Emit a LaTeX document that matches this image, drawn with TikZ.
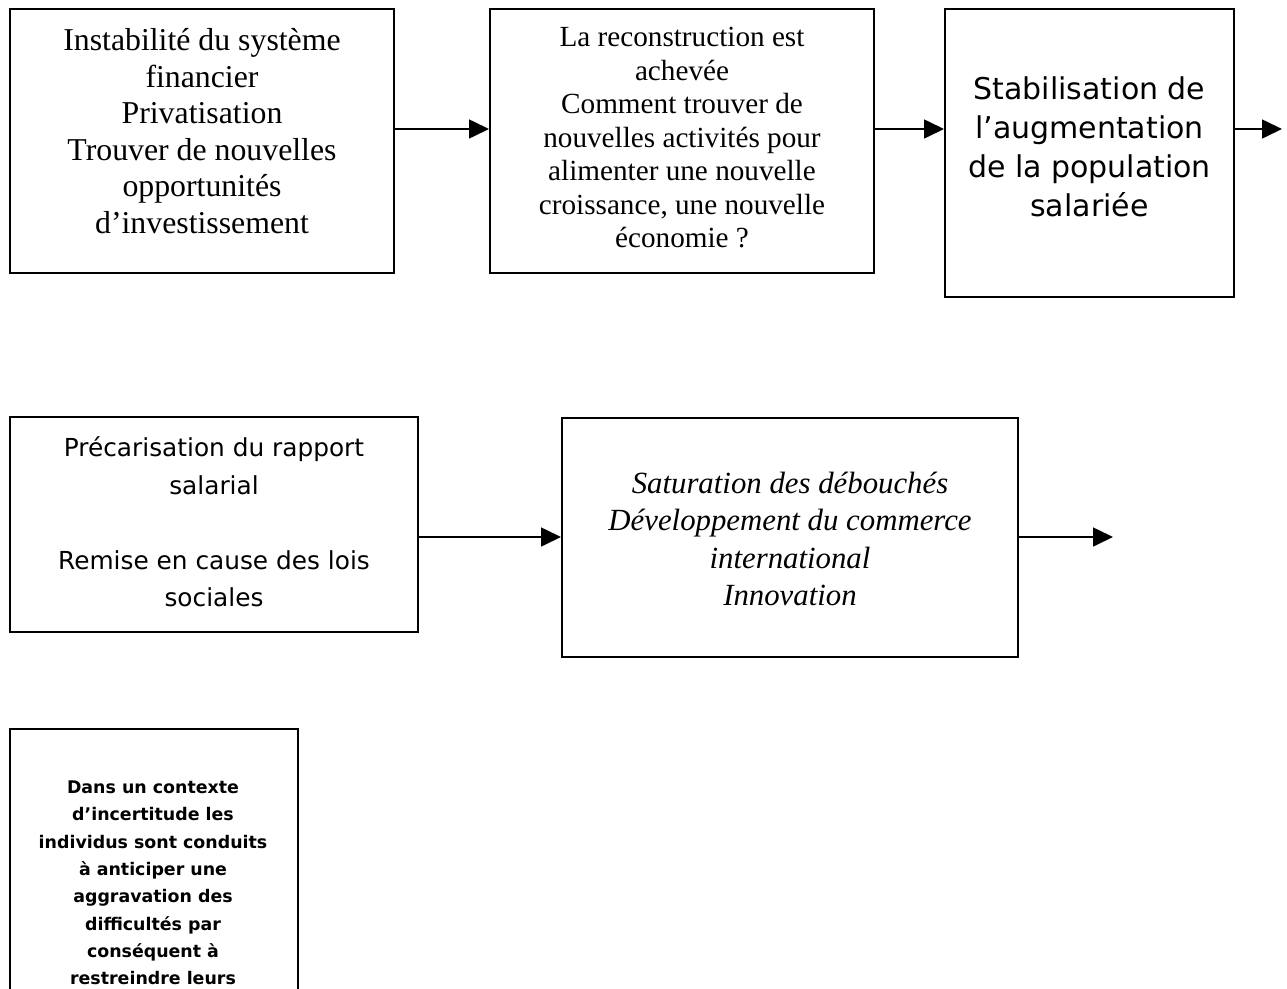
\documentclass[tikz,border=0pt]{standalone}
\usepackage{fontspec}
\setmainfont{Liberation Serif}
\newfontfamily\comic{DejaVu Sans}
\usetikzlibrary{arrows.meta}
\tikzset{
  box/.style={draw=black, line width=2pt, rectangle, inner sep=0pt},
  txt/.style={align=center, inner sep=0pt, anchor=center},
  arr/.style={line width=1.6pt, -{Triangle[length=20pt,width=19pt]}}
}
\begin{document}
\begin{tikzpicture}[x=1pt,y=-1pt]
\useasboundingbox (0,0) rectangle (1287,988);
% boxes
\node[box, minimum width=384pt, minimum height=264pt] (b1) at (202,141) {};
\node[box, minimum width=384pt, minimum height=264pt] (b2) at (682,141) {};
\node[box, minimum width=289pt, minimum height=288pt] (b3) at (1089.5,153) {};
\node[box, minimum width=408pt, minimum height=215pt] (b4) at (214,524.5) {};
\node[box, minimum width=456pt, minimum height=239pt] (b5) at (790,537.5) {};
\node[box, minimum width=288pt, minimum height=275pt] (b6) at (154,866.5) {};
% texts
\node[txt, font=\fontsize{31.8}{36.6}\selectfont] (t1) at (202,131)
  {Instabilité du système\\financier\\Privatisation\\Trouver de nouvelles\\opportunités\\d’investissement};
\node[txt, font=\fontsize{29.2}{33.5}\selectfont] (t2) at (682,138)
  {La reconstruction est\\achevée\\Comment trouver de\\nouvelles activités pour\\alimenter une nouvelle\\croissance, une nouvelle\\économie ?};
\node[txt, font=\comic\fontsize{30}{39}\selectfont] (t3) at (1089.5,147)
  {Stabilisation de\\l’augmentation\\de la population\\salariée};
\node[txt, font=\comic\fontsize{24.8}{37.5}\selectfont] (t4) at (214,522)
  {Précarisation du rapport\\salarial\\[37.5pt]Remise en cause des lois\\sociales};
\node[txt, font=\itshape\fontsize{30.8}{37.5}\selectfont] (t5) at (790,539)
  {Saturation des débouchés\\Développement du commerce\\international\\Innovation};
\node[txt, font=\comic\bfseries\fontsize{17.4}{27.3}\selectfont] (t6) at (153,883)
  {Dans un contexte\\d’incertitude les\\individus sont conduits\\à anticiper une\\aggravation des\\difficultés par\\conséquent à\\restreindre leurs};
% arrow levels and free ends
\coordinate (r1) at (0,129);
\coordinate (r2) at (0,537);
\coordinate (e3) at (1282,129);
\coordinate (e5) at (1113,537);
% connectors
\draw[arr] (b1.east |- r1) -- (b2.west |- r1);
\draw[arr] (b2.east |- r1) -- (b3.west |- r1);
\draw[arr] (b3.east |- r1) -- (e3);
\draw[arr] (b4.east |- r2) -- (b5.west |- r2);
\draw[arr] (b5.east |- r2) -- (e5);
\end{tikzpicture}
\end{document}
